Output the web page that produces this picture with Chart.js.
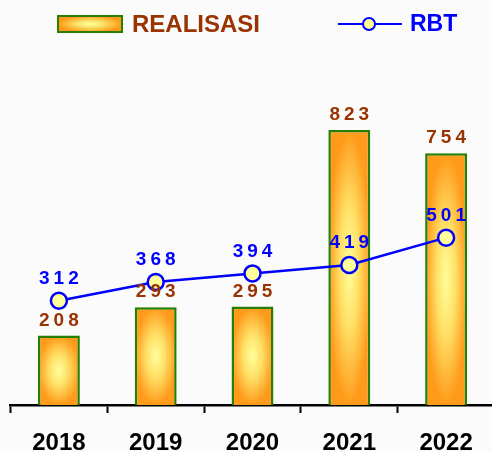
<!DOCTYPE html>
<html>
<head>
<meta charset="utf-8">
<title>REALISASI / RBT</title>
<script src="https://cdn.jsdelivr.net/npm/chart.js@4/dist/chart.umd.min.js"></script>
<style>
	html, body { margin: 0; padding: 0; overflow: hidden; background: #fbfbfb; }
	#wrap { position: relative; width: 505px; height: 452px; }
</style>
</head>
<body>
<div id="wrap"><canvas id="chart"></canvas></div>
<script>

var years							 =	["2018", "2019", "2020", "2021", "2022"];
var realisasi						 =	[208, 293, 295, 823, 754];
var rbt								 =	[312, 368, 394, 419, 501];
var yMax							 =	1000;

var barPct							 =	0.433;
var fontFamily						 =	"'Liberation Sans', Arial, sans-serif";

/**
 * Builds a 100x100 tile with the orange/yellow glow used by the bars
 */
function glowTile() {
	
	var tile						 =	document.createElement("canvas");
	tile.width						 =	100;
	tile.height						 =	100;
	
	var c							 =	tile.getContext("2d");
	var g							 =	c.createRadialGradient(50, 50, 0, 50, 50, 50);
	g.addColorStop(0, "#ffff9c");
	g.addColorStop(0.45, "#ffe066");
	g.addColorStop(1, "#ff9a1a");
	
	c.fillStyle						 =	"#ff9a1a";
	c.fillRect(0, 0, 100, 100);
	c.fillStyle						 =	g;
	c.fillRect(0, 0, 100, 100);
	
	return tile;
	
}

var tile							 =	glowTile();

/**
 * Returns a pattern stretched over a given rectangle
 */
function glowPattern(ctx, left, top, w, h) {
	
	var pattern						 =	ctx.createPattern(tile, "repeat");
	pattern.setTransform(new DOMMatrix().translate(left, top).scale(w / 100, h / 100));
	
	return pattern;
	
}

/**
 * Scriptable bar fill
 */
function barFill(context) {
	
	var chart						 =	context.chart;
	var xs							 =	chart.scales.x;
	var ys							 =	chart.scales.y;
	
	if (context.type !== "data" || !xs || !ys) return "#ff9a1a";
	
	var w							 =	xs.width / years.length * barPct;
	var cx							 =	xs.getPixelForValue(context.dataIndex);
	var top							 =	ys.getPixelForValue(context.raw);
	var base						 =	ys.getPixelForValue(0);
	
	return glowPattern(chart.ctx, cx - w / 2, top, w, base - top);
	
}

/**
 * Value labels above bars and points
 */
var valueLabels						 =	{
	id								 :	"valueLabels",
	afterDatasetsDraw				 :	function (chart) {
		
		var ctx						 =	chart.ctx;
		ctx.save();
		ctx.font					 =	"bold 19px " + fontFamily;
		ctx.textAlign				 =	"center";
		ctx.textBaseline			 =	"middle";
		ctx.letterSpacing			 =	"4px";
		
		chart.data.datasets.forEach(function (ds, i) {
			
			var meta				 =	chart.getDatasetMeta(i);
			var isBar				 =	ds.type === "bar";
			ctx.fillStyle			 =	isBar ? "#993300" : "#0000ff";
			
			meta.data.forEach(function (el, j) {
				
				var y				 =	isBar ? el.y - 15 : el.y - 22;
				ctx.fillText(String(ds.data[j]), el.x + 2, y);
				
			});
			
		});
		
		ctx.restore();
		
	}
};

/**
 * Legend drawn on top of the canvas
 */
var topLegend						 =	{
	id								 :	"topLegend",
	afterDraw						 :	function (chart) {
		
		var ctx						 =	chart.ctx;
		ctx.save();
		
		// REALISASI swatch
		ctx.fillStyle				 =	glowPattern(ctx, 58, 16, 64, 16);
		ctx.fillRect(58, 16, 64, 16);
		ctx.strokeStyle				 =	"#267f00";
		ctx.lineWidth				 =	2;
		ctx.strokeRect(58, 16, 64, 16);
		
		ctx.font					 =	"bold 24px " + fontFamily;
		ctx.textBaseline			 =	"middle";
		ctx.textAlign				 =	"left";
		ctx.fillStyle				 =	"#993300";
		ctx.fillText(chart.data.datasets[1].label, 132, 25);
		
		// RBT symbol
		ctx.strokeStyle				 =	"#0000ff";
		ctx.lineWidth				 =	2;
		ctx.beginPath();
		ctx.moveTo(338, 24);
		ctx.lineTo(402, 24);
		ctx.stroke();
		ctx.beginPath();
		ctx.arc(369, 24, 6, 0, Math.PI * 2);
		ctx.fillStyle				 =	"#ffff99";
		ctx.fill();
		ctx.stroke();
		
		ctx.font					 =	"bold 23px " + fontFamily;
		ctx.fillStyle				 =	"#0000ff";
		ctx.fillText(chart.data.datasets[0].label, 410, 25);
		
		ctx.restore();
		
	}
};

/**
 * Renders chart
 */
function renderChart() {
	
	var config						 =	{
		data						 :	{
			labels					 :	years,
			datasets				 :	[
				{
					type			 :	"line",
					label			 :	"RBT",
					data			 :	rbt,
					order			 :	0,
					borderColor		 :	"#0000ff",
					borderWidth		 :	2.5,
					pointRadius		 :	8,
					pointBorderWidth :	2.5,
					pointBackgroundColor	 :	"#ffff99",
					pointBorderColor :	"#0000ff",
					tension			 :	0
				},
				{
					type			 :	"bar",
					label			 :	"REALISASI",
					data			 :	realisasi,
					order			 :	1,
					backgroundColor	 :	barFill,
					borderColor		 :	"#267f00",
					borderWidth		 :	2.5,
					borderSkipped	 :	"bottom",
					barPercentage	 :	barPct,
					categoryPercentage	 :	1
				}
			]
		},
		options						 :	{
			responsive				 :	true,
			maintainAspectRatio		 :	false,
			animation				 :	false,
			layout					 :	{ padding : { left : 10, right : 0, top : 71, bottom : 0 } },
			plugins					 :	{
				legend				 :	{ display : false },
				tooltip				 :	{ enabled : false }
			},
			scales					 :	{
				x					 :	{
					offset			 :	true,
					afterFit		 :	function (scale) { scale.height = 47; },
					grid			 :	{
						offset			 :	true,
						drawOnChartArea	 :	false,
						drawTicks		 :	true,
						tickLength		 :	8,
						tickWidth		 :	2,
						tickColor		 :	"#000000"
					},
					border			 :	{ display : true, color : "#000000", width : 2.5 },
					ticks			 :	{
						color		 :	"#000000",
						padding		 :	16,
						font		 :	{ family : fontFamily, size : 24, weight : "bold" }
					}
				},
				y					 :	{
					display			 :	false,
					min				 :	0,
					max				 :	yMax
				}
			}
		},
		plugins						 :	[valueLabels, topLegend]
	};
	
	new Chart(document.getElementById("chart"), config);
	
}

renderChart();

</script>
</body>
</html>
